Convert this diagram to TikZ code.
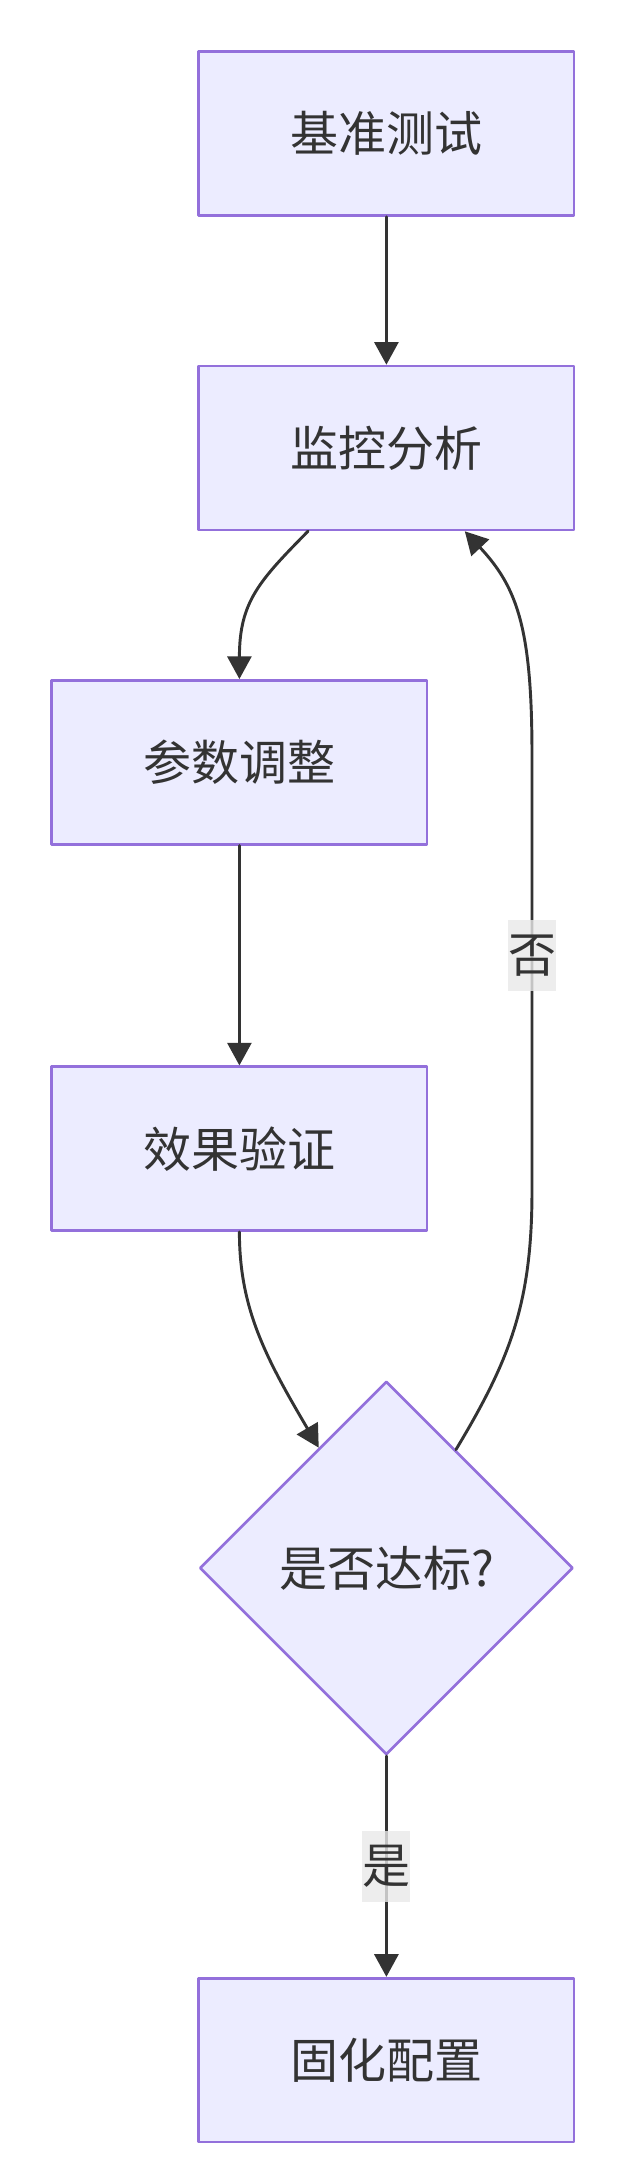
\documentclass[tikz,border=0pt]{standalone}
\usepackage{fontspec}
\setmainfont{Noto Sans CJK SC}
\usepackage{xcolor}
\usetikzlibrary{arrows.meta,shapes.geometric,calc}
\definecolor{boxfill}{HTML}{ECECFF}
\definecolor{boxline}{HTML}{9370DB}
\definecolor{ink}{HTML}{333333}
\definecolor{labelbg}{HTML}{E8E8E8}

\begin{document}
\begin{tikzpicture}[line cap=round,line join=round,>={Triangle[length=17pt,width=18pt]},x=1.05pt,y=-1.05pt,
		procbox/.style={draw=boxline,fill=boxfill,line width=2pt,minimum width=281.4pt,minimum height=122.9pt,inner sep=0pt,text=ink,font=\fontsize{36}{40}\selectfont},
		decide/.style={diamond,aspect=1,draw=boxline,fill=boxfill,line width=2pt,minimum size=280pt,inner sep=0pt,text=ink,font=\fontsize{36}{40}\selectfont},
		flowline/.style={draw=ink,line width=2.2pt},
		elabel/.style={fill=labelbg,fill opacity=0.8,text opacity=1,text=ink,inner sep=0pt,minimum width=35.7pt,minimum height=53.5pt,font=\fontsize{36}{40}\selectfont}]
		\useasboundingbox (0,0) rectangle (445,1557.14);
		% nodes
		\node [procbox] (bench) at (276,95.5) {基准测试};
		\node [procbox] (mon) at (276,320) {监控分析};
		\node [procbox] (par) at (171,544.5) {参数调整};
		\node [procbox] (ver) at (171,820.5) {效果验证};
		\node [decide] (chk) at (276,1120) {是否达标?};
		\node [procbox] (fix) at (276,1471.5) {固化配置};
		% edges
		\draw [flowline,->] (bench) -- (mon);
		\draw [flowline,->] ($(mon.south)+(-56,0)$) .. controls (185,415) and (171,430) .. (par.north);
		\draw [flowline,->] (par) -- (ver);
		\draw [flowline,->] (ver.south) .. controls (171,935) and (190,970) .. ($(chk.north)!0.36!(chk.west)$);
		\draw [flowline,->] ($(chk.north)!0.37!(chk.east)$) .. controls (365,970) and (380,930) .. (380,850)
			-- node [elabel,pos=0.54] {否} (380,540) .. controls (380,450) and (370,420) .. ($(mon.south)+(56,0)$);
		\draw [flowline,->] (chk) -- node [elabel] {是} (fix);
\end{tikzpicture}
\end{document}
